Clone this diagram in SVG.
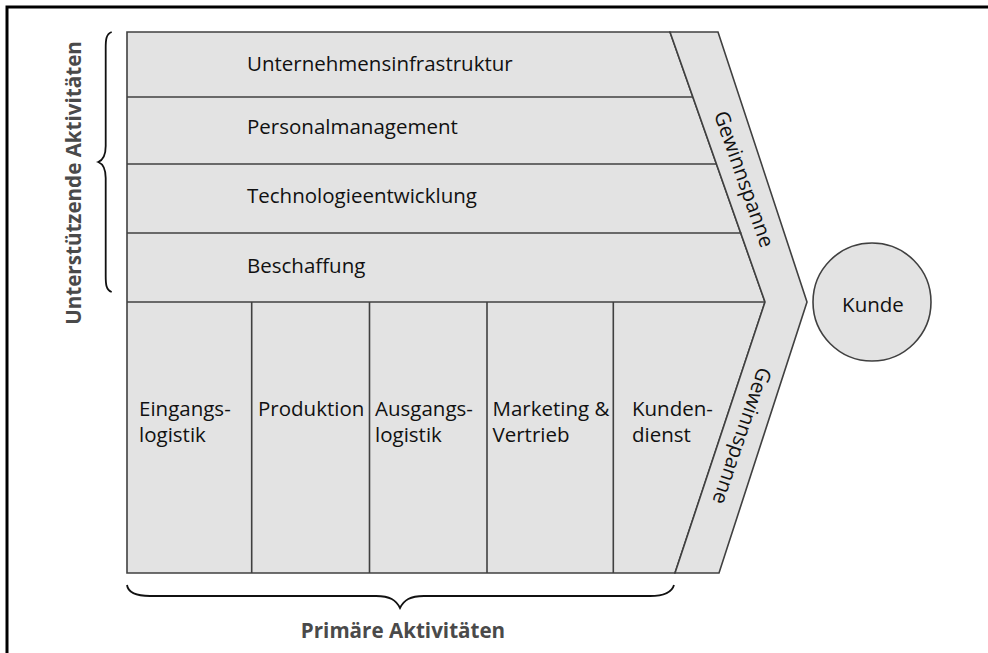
<svg xmlns="http://www.w3.org/2000/svg" width="988" height="653" viewBox="0 0 988 653">
  <style>
    .box { fill: #e3e3e3; stroke: #404040; stroke-width: 1.6; stroke-linejoin: miter; }
    .div { fill: none; stroke: #404040; stroke-width: 1.6; }
    .brace { fill: none; stroke: #111111; stroke-width: 1.8; }
    .lbl { font-family: "Open Sans", "Noto Sans", "Liberation Sans", sans-serif; font-size: 20.5px; fill: #111111; }
    .grp { font-family: "Open Sans", "Noto Sans", "Liberation Sans", sans-serif; font-size: 20.6px; font-weight: bold; fill: #4a4a4a; }
  </style>

  <!-- outer frame -->
  <rect x="7" y="7" width="995" height="670" fill="#ffffff" stroke="#000000" stroke-width="3"/>

  <!-- value chain body -->
  <g id="chain">
    <polygon class="box" points="127,32 670,32 765,302 675,573 127,573"/>
  </g>

  <!-- margin band (chevron) -->
  <g id="gewinnspanne">
    <polygon class="box" points="670,32 718,32 807,302 719,573 675,573 765,302"/>
    <text class="lbl" transform="translate(744,179) rotate(70.6)" text-anchor="middle" y="7">Gewinnspanne</text>
    <text class="lbl" transform="translate(742,436) rotate(108.8)" text-anchor="middle" y="7">Gewinnspanne</text>
  </g>

  <!-- support activities -->
  <g id="unternehmensinfrastruktur">
    <text class="lbl" x="247" y="71">Unternehmensinfrastruktur</text>
  </g>
  <g id="personalmanagement">
    <line class="div" x1="127" y1="97" x2="693" y2="97"/>
    <text class="lbl" x="247" y="134">Personalmanagement</text>
  </g>
  <g id="technologieentwicklung">
    <line class="div" x1="127" y1="164" x2="716.6" y2="164"/>
    <text class="lbl" x="247" y="203">Technologieentwicklung</text>
  </g>
  <g id="beschaffung">
    <line class="div" x1="127" y1="233" x2="741.5" y2="233"/>
    <text class="lbl" x="247" y="272.5">Beschaffung</text>
  </g>

  <!-- primary activities -->
  <g id="primaer-trenner">
    <line class="div" x1="127" y1="302" x2="765" y2="302"/>
  </g>
  <g id="eingangslogistik">
    <text class="lbl" x="139" y="416">Eingangs-</text>
    <text class="lbl" x="139" y="441.5">logistik</text>
  </g>
  <g id="produktion">
    <line class="div" x1="251.7" y1="302" x2="251.7" y2="573"/>
    <text class="lbl" x="258" y="416">Produktion</text>
  </g>
  <g id="ausgangslogistik">
    <line class="div" x1="369.5" y1="302" x2="369.5" y2="573"/>
    <text class="lbl" x="375" y="416">Ausgangs-</text>
    <text class="lbl" x="375" y="441.5">logistik</text>
  </g>
  <g id="marketing-vertrieb">
    <line class="div" x1="487" y1="302" x2="487" y2="573"/>
    <text class="lbl" x="492.5" y="416">Marketing &amp;</text>
    <text class="lbl" x="492.5" y="441.5">Vertrieb</text>
  </g>
  <g id="kundendienst">
    <line class="div" x1="613.3" y1="302" x2="613.3" y2="573"/>
    <text class="lbl" x="632" y="416">Kunden-</text>
    <text class="lbl" x="632" y="441.5">dienst</text>
  </g>

  <!-- customer -->
  <g id="kunde">
    <circle class="box" cx="872" cy="302" r="59"/>
    <text class="lbl" x="873" y="311.5" text-anchor="middle">Kunde</text>
  </g>

  <!-- braces and group labels -->
  <g id="klammern">
    <path class="brace" d="M111.7,32 C106,34 105.7,40 105.7,48 L105.7,146 C105.7,156 103,160 98.3,162 C103,164 105.7,168 105.7,178 L105.7,276 C105.7,284 106,290 111.7,292"/>
    <path class="brace" d="M127,585 C128,592 136,596 150,596 L376,596 C390,596 396,600 400,608 C404,600 410,596 424,596 L650,596 C664,596 672,592 674,585"/>
  </g>
  <g id="unterstuetzende-aktivitaeten">
    <text class="grp" transform="translate(81,183) rotate(-90)" text-anchor="middle">Unterstützende Aktivitäten</text>
  </g>
  <g id="primaere-aktivitaeten">
    <text class="grp" x="403" y="637.5" text-anchor="middle">Primäre Aktivitäten</text>
  </g>
</svg>
